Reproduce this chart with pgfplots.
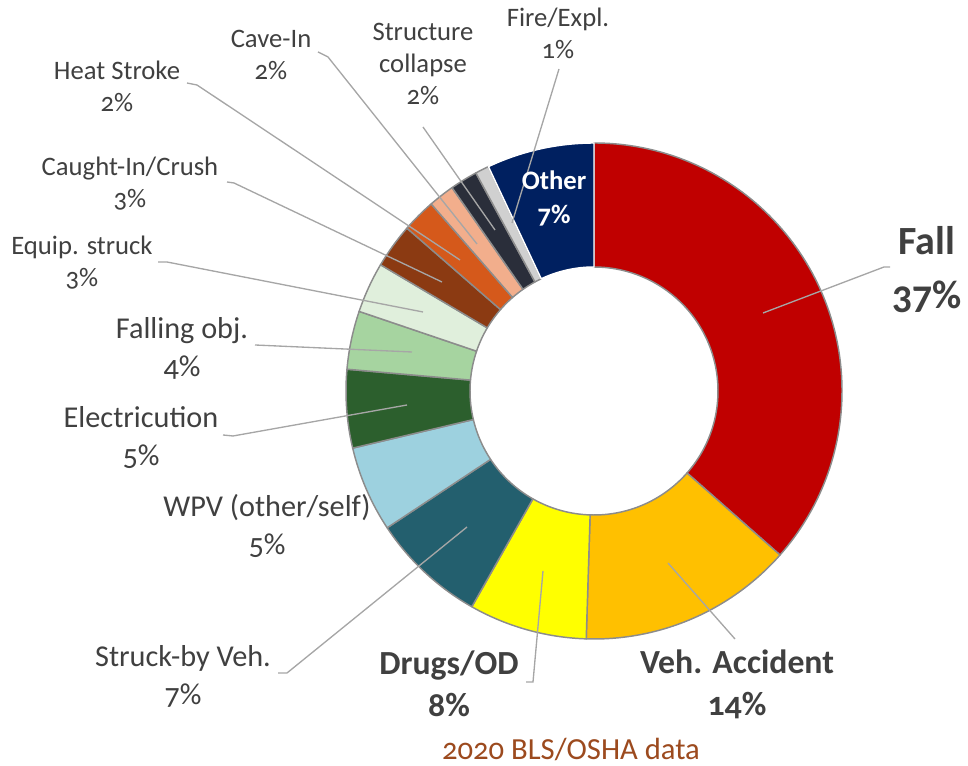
\documentclass[border=0pt]{standalone}
\usepackage{pgfplots}
\pgfplotsset{compat=1.18}
\usepackage{fontspec}
\setmainfont{Carlito}[Numbers=OldStyle]

\definecolor{labgray}{HTML}{404040}
\definecolor{leadgray}{HTML}{A6A6A6}
\definecolor{edgegray}{HTML}{8C8C8C}
\definecolor{capbrown}{HTML}{9C4A1E}
\definecolor{cFall}{HTML}{C00000}
\definecolor{cVeh}{HTML}{FFC000}
\definecolor{cDrug}{HTML}{FFFF00}
\definecolor{cStruck}{HTML}{235F6E}
\definecolor{cWPV}{HTML}{9DD1DF}
\definecolor{cElec}{HTML}{2C5F2D}
\definecolor{cFobj}{HTML}{A6D4A0}
\definecolor{cEquip}{HTML}{E0EFDC}
\definecolor{cCaught}{HTML}{8B3A12}
\definecolor{cHeat}{HTML}{D5591B}
\definecolor{cCave}{HTML}{F2AE8C}
\definecolor{cStruct}{HTML}{2A2E3A}
\definecolor{cFire}{HTML}{D0D0D0}
\definecolor{cOther}{HTML}{002060}

% donut: centre (594,373), outer 248, inner 124 axis units (1 unit = 0.75pt)
\newcommand\cum{0}
\newcommand\cx{594}
\newcommand\cy{373}
\newcommand{\slice}[3][edgegray]{%
  \pgfmathsetmacro\aS{90-3.6*\cum}%
  \pgfmathsetmacro\aE{90-3.6*(\cum+#2)}%
  \pgfmathsetmacro\xout{\cx+248*cos(\aS)}%
  \pgfmathsetmacro\yout{\cy+248*sin(\aS)}%
  \pgfmathsetmacro\xin{\cx+124*cos(\aE)}%
  \pgfmathsetmacro\yin{\cy+124*sin(\aE)}%
  \edef\tmp{\noexpand\filldraw[fill=#3, draw=#1, line width=1.1pt, line join=round]
    (axis cs:\xout,\yout) arc[start angle=\aS, end angle=\aE, radius=186pt]
    -- (axis cs:\xin,\yin) arc[start angle=\aE, end angle=\aS, radius=93pt] -- cycle;}%
  \tmp
  \pgfmathsetmacro\newcum{\cum+#2}\global\let\cum\newcum
}

\begin{document}
\begin{tikzpicture}[
  small/.style={font=\fontsize{20}{24}\selectfont, text=labgray, align=center},
  mid/.style={font=\fontsize{22.7}{28.5}\selectfont, text=labgray, align=center},
  big/.style={font=\fontsize{25.3}{31.5}\selectfont\bfseries, text=labgray, align=center},
]
\begin{axis}[
  x=0.75pt, y=0.75pt,
  xmin=0, xmax=968, ymin=0, ymax=764,
  hide axis, clip=false,
]
% keeps the page the size of the reference
\addplot[draw=none] coordinates {(0,0) (968,764)};

% slices, clockwise from 12 o'clock (percent)
\slice{36.5}{cFall}
\slice{14.0}{cVeh}
\slice{7.7}{cDrug}
\slice{7.5}{cStruck}
\slice{5.6}{cWPV}
\slice{5.1}{cElec}
\slice{3.8}{cFobj}
\slice{3.3}{cEquip}
\slice{2.9}{cCaught}
\slice{2.2}{cHeat}
\slice{1.7}{cCave}
\slice{1.8}{cStruct}
\slice{0.9}{cFire}
\slice[white]{7.0}{cOther}

% leader lines
\addplot[leadgray, line width=1pt] coordinates {(763,451) (884,497) (890,497)};
\addplot[leadgray, line width=1pt] coordinates {(668,201) (735,125)};
\addplot[leadgray, line width=1pt] coordinates {(543,193) (533,82) (526,82)};
\addplot[leadgray, line width=1pt] coordinates {(467,237) (287,91) (278,91)};
\addplot[leadgray, line width=1pt] coordinates {(407,359) (233,328) (223,329)};
\addplot[leadgray, line width=1pt] coordinates {(412,412) (255,419)};
\addplot[leadgray, line width=1pt] coordinates {(423,452) (167,502) (158,502)};
\addplot[leadgray, line width=1pt] coordinates {(442,482) (234,581) (227,582)};
\addplot[leadgray, line width=1pt] coordinates {(460,504) (197,679) (187,681)};
\addplot[leadgray, line width=1pt] coordinates {(477,520) (328,707) (318,712)};
\addplot[leadgray, line width=1pt] coordinates {(495,534) (423,637)};
\addplot[leadgray, line width=1pt] coordinates {(512,541) (559,695)};

% labels
\node[small] at (axis cs:271,709) {Cave-In\\2\%};
\node[small] at (axis cs:117,678) {Heat Stroke\\2\%};
\node[small] at (axis cs:130,580) {Caught-In/Crush\\3\%};
\node[small] at (axis cs:82,501) {Equip. struck\\3\%};
\node[small] at (axis cs:423,700) {Structure\\collapse\\2\%};
\node[small] at (axis cs:558,731) {Fire/Expl.\\1\%};
\node[mid] at (axis cs:182,416) {Falling obj.\\4\%};
\node[mid] at (axis cs:141,326) {Electricution\\5\%};
\node[mid] at (axis cs:267,238) {WPV (other/self)\\5\%};
\node[mid] at (axis cs:183,88) {Struck-by Veh.\\7\%};
\node[big] at (axis cs:449,80) {Drugs/OD\\8\%};
\node[big] at (axis cs:737,80) {Veh. Accident\\14\%};
\node[font=\fontsize{30}{40.5}\selectfont\bfseries, text=labgray, align=center]
  at (axis cs:927,494) {Fall\\37\%};
\node[font=\fontsize{20}{25.5}\selectfont\bfseries, text=white, align=center]
  at (axis cs:554,566) {Other\\7\%};
\node[font=\fontsize{23}{28}\selectfont, text=capbrown] at (axis cs:571,14) {2020 BLS/OSHA data};
\end{axis}
\end{tikzpicture}
\end{document}
